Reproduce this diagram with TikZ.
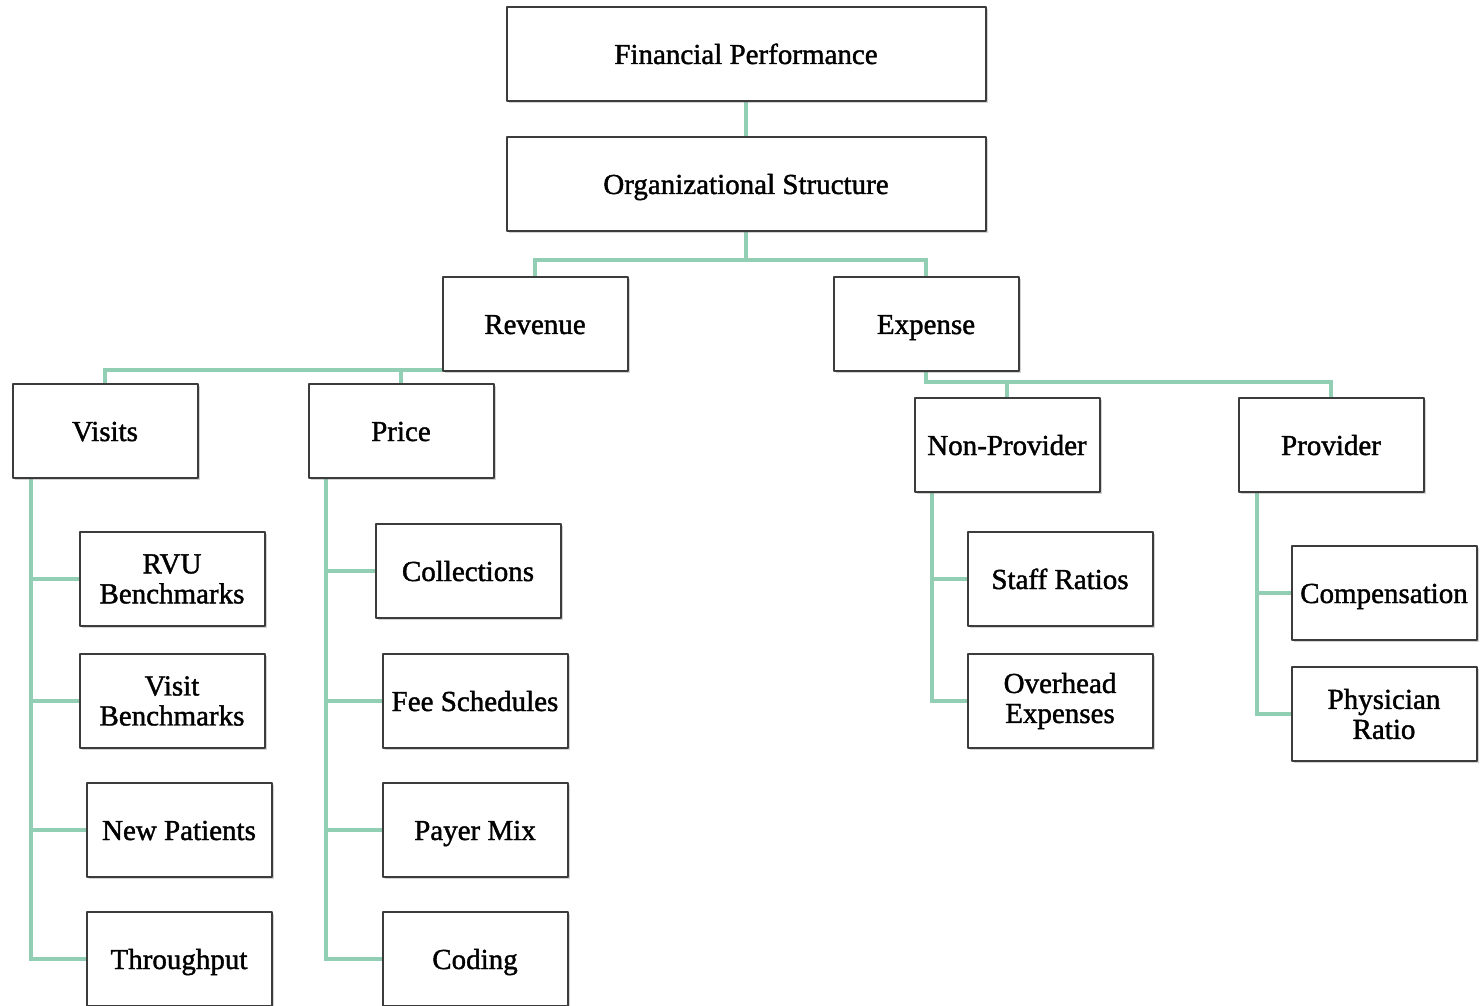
\documentclass[tikz,border=0pt]{standalone}
\usepackage{fontspec}
\setmainfont{Liberation Serif}
\newfontfamily\boxfont{Liberation Serif}[FakeBold=1.4]
\usetikzlibrary{shadows,backgrounds}

\definecolor{linkgreen}{RGB}{146,206,180}
\definecolor{boxgrey}{RGB}{60,60,60}

\tikzset{
  cell/.style={draw=boxgrey, line width=1pt, fill=white, minimum width=92.5pt,
    minimum height=47pt, align=center, inner sep=1pt,
    font=\boxfont\fontsize{14.5}{15}\selectfont,
    drop shadow={opacity=0.35, shadow xshift=1pt, shadow yshift=-1pt}},
  box/.style={cell, text height=13pt, text depth=3pt},
  widebox/.style={box, minimum width=239.5pt},
  conn/.style={draw=linkgreen, line width=2pt}
}

\begin{document}
\begin{tikzpicture}[x=0.5pt, y=-0.5pt, line join=round]

    \useasboundingbox (0,0) rectangle (1480,1006);

    % Niveau haut
    \node[widebox] (fin) at (746, 54) {Financial Performance};
    \node[widebox] (org) at (746, 184) {Organizational Structure};

    % Revenus et dépenses
    \node[box] (rev) at (535, 324) {Revenue};
    \node[box] (exp) at (926, 324) {Expense};

    \node[box] (vis) at (105, 431) {Visits};
    \node[box] (pri) at (401, 431) {Price};
    \node[box] (npr) at (1007, 445) {Non-Provider};
    \node[box] (prv) at (1331, 445) {Provider};

    % Feuilles
    \node[cell] (rvu) at (172, 579) {RVU\\Benchmarks};
    \node[cell] (vbm) at (172, 701) {Visit\\Benchmarks};
    \node[box] (npt) at (179, 830) {New Patients};
    \node[box] (thr) at (179, 959) {Throughput};

    \node[box] (col) at (468, 571) {Collections};
    \node[box] (fee) at (475, 701) {Fee Schedules};
    \node[box] (pay) at (475, 830) {Payer Mix};
    \node[box] (cod) at (475, 959) {Coding};

    \node[box] (stf) at (1060, 579) {Staff Ratios};
    \node[cell] (ovh) at (1060, 701) {Overhead\\Expenses};

    \node[box] (cmp) at (1384, 593) {Compensation};
    \node[cell] (phy) at (1384, 714) {Physician\\Ratio};

    % Liaisons
    \begin{scope}[on background layer]
        \draw[conn] (fin) -- (org);
        \draw[conn] (org.south) -- ++(0, 28) -| (rev.north);
        \draw[conn] (org.south) -- ++(0, 28) -| (exp.north);

        \draw[conn] ([yshift=1pt]rev.south) -| (vis.north);
        \draw[conn] ([yshift=1pt]rev.south) -| (pri.north);
        \draw[conn] (exp.south) -- ++(0, 10) -| (npr.north);
        \draw[conn] (exp.south) -- ++(0, 10) -| (prv.north);

        \foreach \c in {rvu, vbm, npt, thr}
            \draw[conn] ([xshift=9.5pt]vis.south west) |- (\c.west);
        \foreach \c in {col, fee, pay, cod}
            \draw[conn] ([xshift=9pt]pri.south west) |- (\c.west);
        \foreach \c in {stf, ovh}
            \draw[conn] ([xshift=9pt]npr.south west) |- (\c.west);
        \foreach \c in {cmp, phy}
            \draw[conn] ([xshift=9.5pt]prv.south west) |- (\c.west);
    \end{scope}
\end{tikzpicture}
\end{document}
